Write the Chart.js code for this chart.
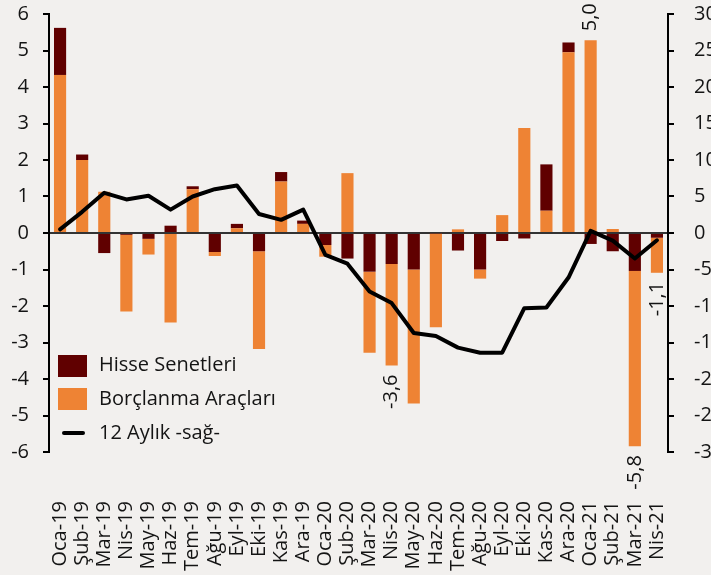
<!DOCTYPE html>
<html>
<head>
<meta charset="utf-8">
<script src="https://cdn.jsdelivr.net/npm/chart.js@4.4.1/dist/chart.umd.min.js"></script>
<style>
  html, body { margin:0; padding:0; background:#f2f0ee; overflow:hidden; }
  #wrap { position:relative; width:711px; height:575px; }
  canvas { position:absolute; left:0; top:0; }
  .lg { position:absolute; font-family:"Open Sans", sans-serif; font-size:20px; color:#141414; line-height:24px; white-space:nowrap; }
  .sw { position:absolute; }
</style>
</head>
<body>
<div id="wrap">
  <canvas id="c" width="711" height="575"></canvas>
  <div class="sw" style="left:58px;top:355px;width:29px;height:22px;background:#600000"></div>
  <div class="lg" style="left:99px;top:352px;">Hisse Senetleri</div>
  <div class="sw" style="left:58px;top:388px;width:29px;height:22px;background:#ee8334"></div>
  <div class="lg" style="left:99px;top:386px;">Borçlanma Araçları</div>
  <div class="sw" style="left:62px;top:431px;width:23px;height:4px;background:#000;border-radius:2px"></div>
  <div class="lg" style="left:99px;top:420px;">12 Aylık -sağ-</div>
</div>
<script>
const months = ['Oca-19','Şub-19','Mar-19','Nis-19','May-19','Haz-19','Tem-19','Ağu-19','Eyl-19','Eki-19','Kas-19','Ara-19','Oca-20','Şub-20','Mar-20','Nis-20','May-20','Haz-20','Tem-20','Ağu-20','Eyl-20','Eki-20','Kas-20','Ara-20','Oca-21','Şub-21','Mar-21','Nis-21'];
const hisse = [1.29, 0.15, -0.55, -0.05, -0.16, 0.2, 0.08, -0.52, 0.12, -0.5, 0.26, 0.09, -0.33, -0.7, -1.06, -0.85, -1.0, -0.02, -0.48, -1.0, -0.22, -0.15, 1.27, 0.27, -0.3, -0.5, -1.04, -0.13];
const borc = [4.33, 2.0, 1.13, -2.1, -0.43, -2.45, 1.2, -0.11, 0.13, -2.68, 1.41, 0.25, -0.32, 1.64, -2.22, -2.78, -3.67, -2.56, 0.1, -0.25, 0.49, 2.88, 0.61, 4.95, 5.28, 0.11, -4.8, -0.96];
const twelve = [0.5, 2.9, 5.5, 4.6, 5.1, 3.2, 5.0, 6.0, 6.5, 2.6, 1.8, 3.2, -3.0, -4.2, -8.0, -9.6, -13.7, -14.1, -15.7, -16.4, -16.4, -10.3, -10.2, -6.1, 0.3, -1.05, -3.5, -1.0];
const leftTicks = [-6,-5,-4,-3,-2,-1,0,1,2,3,4,5,6];
const rightTicks = [-30,-25,-20,-15,-10,-5,0,5,10,15,20,25,30];
const labeledMonths = ['Nis-20','Oca-21','Mar-21','Nis-21'];

const DARK = '#600000', ORANGE = '#ee8334';
const FONT = {family:'"Open Sans", sans-serif', size:20};

function zeroPad(s){ s.paddingTop = 0; s.paddingBottom = 0; s.paddingLeft = 0; s.paddingRight = 0; }

const netLabels = {
  id:'netLabels',
  afterDatasetsDraw(chart){
    const ctx = chart.ctx, x = chart.scales.x, y = chart.scales.y;
    ctx.save();
    ctx.font = '20px "Open Sans", sans-serif';
    ctx.fillStyle = '#141414';
    ctx.textBaseline = 'middle';
    labeledMonths.forEach(m => {
      const i = months.indexOf(m);
      const h = hisse[i], b = borc[i];
      const pos = Math.max(h,0) + Math.max(b,0);
      const neg = Math.min(h,0) + Math.min(b,0);
      const net = h + b;
      const txt = net.toFixed(1).replace('.', ',');
      const px = x.getPixelForValue(i);
      ctx.save();
      if (net >= 0) {
        ctx.translate(px, y.getPixelForValue(pos) - 9);
        ctx.rotate(-Math.PI/2);
        ctx.textAlign = 'left';
      } else {
        ctx.translate(px, y.getPixelForValue(neg) + 9);
        ctx.rotate(-Math.PI/2);
        ctx.textAlign = 'right';
      }
      ctx.fillText(txt, 0, 0);
      ctx.restore();
    });
    ctx.restore();
  }
};

new Chart(document.getElementById('c'), {
  data: {
    labels: months,
    datasets: [
      {type:'line', label:'12 Aylık -sağ-', data: twelve, yAxisID:'y1', borderColor:'#000', borderWidth:4, pointRadius:0, tension:0, order:0, borderJoinStyle:'round', borderCapStyle:'round'},
      {type:'bar', label:'Borçlanma Araçları', data: borc.map(v => v > 0 ? v : null), backgroundColor: ORANGE, stack:'s', yAxisID:'y', order:1},
      {type:'bar', label:'Hisse Senetleri', data: hisse, backgroundColor: DARK, stack:'s', yAxisID:'y', order:1},
      {type:'bar', label:'Borçlanma Araçları ', data: borc.map(v => v < 0 ? v : null), backgroundColor: ORANGE, stack:'s', yAxisID:'y', order:1}
    ]
  },
  options: {
    responsive:false,
    animation:false,
    devicePixelRatio:1,
    layout:{padding:{top:14, left:0, right:0, bottom:0}},
    datasets:{bar:{categoryPercentage:1, barPercentage:0.55, borderWidth:0}},
    plugins:{legend:{display:false}, tooltip:{enabled:false}},
    scales:{
      x:{
        stacked:true,
        offset:true,
        grid:{display:false},
        border:{display:false},
        ticks:{autoSkip:false, minRotation:90, maxRotation:90, padding:41, font:FONT, color:'#141414'},
        afterFit(s){ s.height = 123; zeroPad(s); }
      },
      y:{
        position:'left',
        stacked:true,
        min:-6, max:6,
        afterBuildTicks(s){ s.ticks = leftTicks.map(v => ({value:v})); },
        ticks:{font:FONT, color:'#141414', padding:14, callback:v => String(v)},
        grid:{
          drawOnChartArea:true,
          color: c => (c.tick && c.tick.value === 0) ? '#333' : 'rgba(0,0,0,0)',
          tickColor:'#000', tickLength:6, lineWidth:2
        },
        border:{display:true, color:'#000', width:2},
        afterFit(s){ s.width = 49; zeroPad(s); }
      },
      y1:{
        position:'right',
        min:-30, max:30,
        afterBuildTicks(s){ s.ticks = rightTicks.map(v => ({value:v})); },
        ticks:{font:FONT, color:'#141414', padding:20, callback:v => String(v)},
        grid:{drawOnChartArea:false, tickColor:'#000', tickLength:6, lineWidth:2},
        border:{display:true, color:'#000', width:2},
        afterFit(s){ s.width = 43; zeroPad(s); }
      }
    }
  },
  plugins:[netLabels]
});
</script>
</body>
</html>
